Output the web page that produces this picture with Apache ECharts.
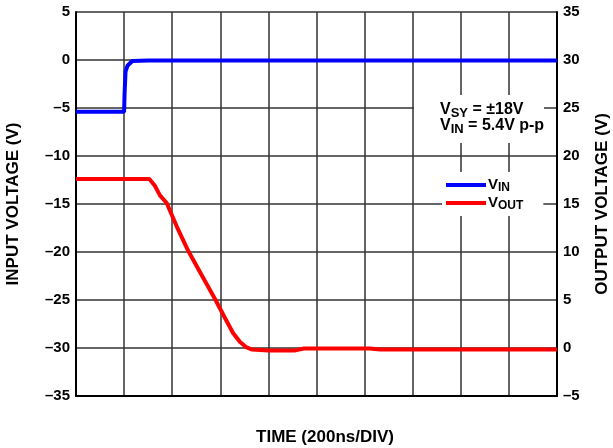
<!DOCTYPE html>
<html>
<head>
<meta charset="utf-8">
<script src="https://cdn.jsdelivr.net/npm/echarts@6/dist/echarts.min.js"></script>
<style>html,body{margin:0;padding:0;background:#fff;}#c{width:613px;height:448px;}</style>
</head>
<body>
<div id="c"></div>
<script>
// Time in ns (200 ns per division)
const vinTime  = [0, 200, 202, 206, 214, 234, 300, 600, 1000, 1400, 1800, 2000];
const vinValue = [-5.4, -5.4, -3.5, -1.2, -0.6, -0.1, -0.05, -0.05, -0.05, -0.05, -0.05, -0.05];
const voutTime  = [0, 305, 328, 349, 377, 420, 467, 520, 578, 620, 653, 682, 707, 732, 800, 912, 948, 1100, 1222, 1264, 1500, 2000];
const voutValue = [17.6, 17.6, 16.9, 15.9, 15.1, 12.6, 10.1, 7.7, 5.1, 3.1, 1.56, 0.62, 0.1, -0.16, -0.25, -0.25, -0.05, -0.05, -0.05, -0.15, -0.15, -0.15];
const leftTicks = {min: -35, max: 5, step: 5};
const rightTicks = {min: -5, max: 35, step: 5};
const xRange = {min: 0, max: 2000, step: 200};

const FONT = 'Liberation Sans, Arial, sans-serif';
const dash = v => String(v).replace('-', '\u2013');
const chart = echarts.init(document.getElementById('c'), null, {renderer: 'canvas'});
const labelStyle = {color: '#000', fontWeight: 'bold', fontSize: 15, fontFamily: FONT};
const nameStyle = {color: '#000', fontWeight: 'bold', fontSize: 17, fontFamily: FONT};
const richAnno = {
  b: {fontSize: 16, fontWeight: 'bold', fontFamily: FONT, color: '#000', lineHeight: 16},
  s: {fontSize: 13, fontWeight: 'bold', fontFamily: FONT, color: '#000', lineHeight: 16, padding: [7, 0, 0, 0]}
};
const richLeg = {
  b: {fontSize: 15, fontWeight: 'bold', fontFamily: FONT, color: '#000', lineHeight: 16},
  s: {fontSize: 12, fontWeight: 'bold', fontFamily: FONT, color: '#000', lineHeight: 16, padding: [6, 0, 0, 0]}
};
chart.setOption({
  animation: false,
  backgroundColor: '#fff',
  grid: {left: 76, right: 56, top: 12, bottom: 52, containLabel: false, outerBoundsMode: 'none'},
  xAxis: {
    type: 'value', min: xRange.min, max: xRange.max, interval: xRange.step,
    name: 'TIME (200ns/DIV)', nameLocation: 'middle', nameGap: 33,
    nameTextStyle: Object.assign({}, nameStyle, {padding: [0, 0, 0, 17]}),
    axisLine: {show: true, onZero: false, lineStyle: {color: '#000', width: 2}},
    axisTick: {show: false}, axisLabel: {show: false},
    splitLine: {show: true, lineStyle: {color: '#333', width: 1.5}}
  },
  yAxis: [{
    type: 'value', position: 'left', min: leftTicks.min, max: leftTicks.max, interval: leftTicks.step,
    name: 'INPUT VOLTAGE (V)', nameLocation: 'middle', nameGap: 54, nameRotate: 90,
    nameTextStyle: nameStyle,
    axisLine: {show: true, onZero: false, lineStyle: {color: '#000', width: 2}},
    axisTick: {show: false},
    axisLabel: Object.assign({}, labelStyle, {margin: 6, formatter: dash}),
    splitLine: {show: true, lineStyle: {color: '#333', width: 1.5}}
  }, {
    type: 'value', position: 'right', min: rightTicks.min, max: rightTicks.max, interval: rightTicks.step,
    name: 'OUTPUT VOLTAGE (V)', nameLocation: 'middle', nameGap: 37, nameRotate: 90,
    nameTextStyle: nameStyle,
    axisLine: {show: true, onZero: false, lineStyle: {color: '#000', width: 2}},
    axisTick: {show: false},
    axisLabel: Object.assign({}, labelStyle, {margin: 6, formatter: dash}),
    splitLine: {show: false}
  }],
  legend: {
    orient: 'vertical', left: 442, top: 172, itemGap: 0,
    backgroundColor: '#fff', padding: [4, 20, 4, 4],
    icon: 'rect', itemWidth: 40, itemHeight: 4,
    data: ['VIN', 'VOUT'],
    formatter: n => n === 'VIN' ? '{b|V}{s|IN}' : '{b|V}{s|OUT}',
    textStyle: {rich: richLeg, padding: [0, 0, 0, -3]}
  },
  graphic: [{
    type: 'rect', left: 414, top: 95, shape: {width: 130, height: 48}, style: {fill: '#fff'}, z: 10
  }, {
    type: 'text', left: 440, top: 100, z: 11,
    style: {
      text: '{b|V}{s|SY}{b| = \u00b118V}\n{b|V}{s|IN}{b| = 5.4V p-p}',
      rich: richAnno
    }
  }],
  series: [{
    name: 'VIN', type: 'line', yAxisIndex: 0, showSymbol: false, symbol: 'none',
    data: vinTime.map((t, i) => [t, vinValue[i]]),
    lineStyle: {color: '#0000ff', width: 4}, itemStyle: {color: '#0000ff'}, z: 5
  }, {
    name: 'VOUT', type: 'line', yAxisIndex: 1, showSymbol: false, symbol: 'none',
    data: voutTime.map((t, i) => [t, voutValue[i]]),
    lineStyle: {color: '#ff0000', width: 4}, itemStyle: {color: '#ff0000'}, z: 5
  }]
});
</script>
</body>
</html>
